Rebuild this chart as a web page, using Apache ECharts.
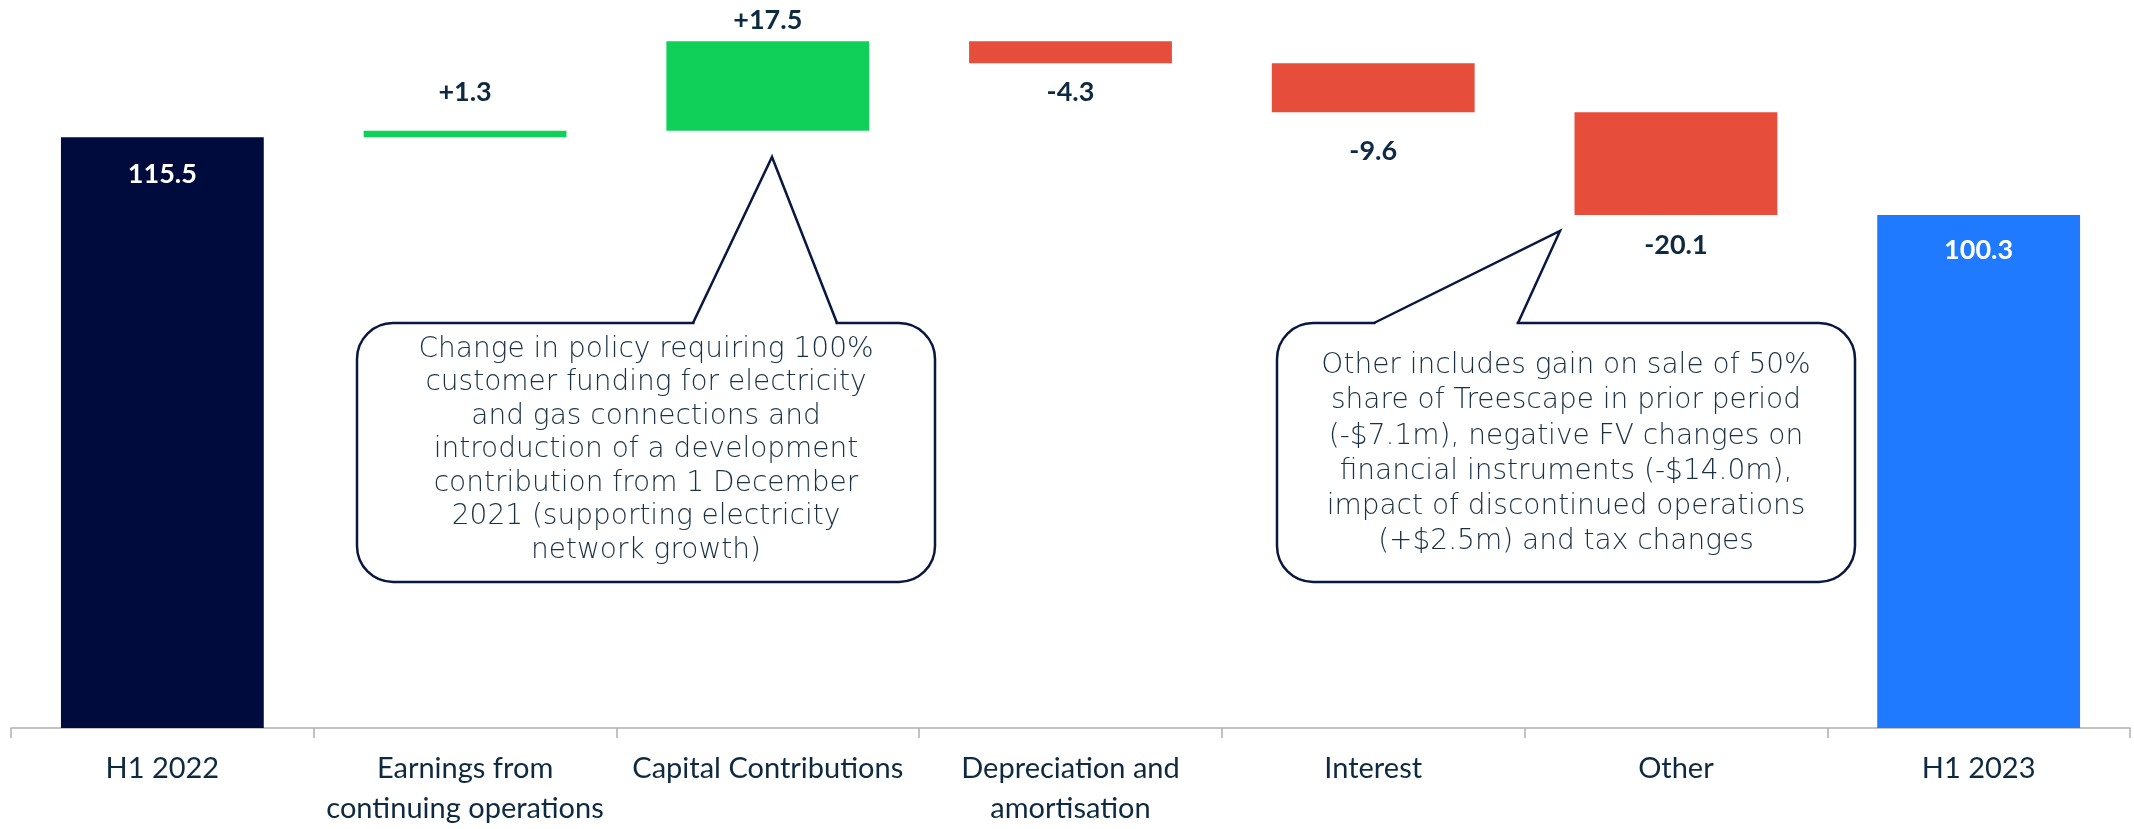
<!DOCTYPE html>
<html>
<head>
<meta charset="utf-8">
<script src="https://cdn.jsdelivr.net/npm/echarts@6/dist/echarts.min.js"></script>
<style>
  html, body { margin: 0; padding: 0; background: #fff; }
  #chart { width: 2134px; height: 829px; }
</style>
</head>
<body>
<div id="chart"></div>
<script>
  // categories and values of the bridge
  const categories = ['H1 2022', 'Earnings from\ncontinuing operations', 'Capital Contributions',
    'Depreciation and\namortisation', 'Interest', 'Other', 'H1 2023'];
  const values = [115.5, 1.3, 17.5, -4.3, -9.6, -20.1, 100.3];
  const isTotal = [true, false, false, false, false, false, true];

  // styles (not data)
  const barColors = ['#000b3d', '#10d05a', '#10d05a', '#e64d3a', '#e64d3a', '#e64d3a', '#1f7aff'];
  const labelGap = [23, 25, 7, 16, 26, 17, 22];
  const darkText = '#0e2a40';
  const bubbleLine = '#0a1740';

  // build the invisible base + visible part of each step
  let running = 0;
  let baseData = [];
  let stepData = [];
  values.forEach((v, i) => {
    if (isTotal[i]) {
      baseData.push(0);
      running = v;
    } else if (v >= 0) {
      baseData.push(running);
      running += v;
    } else {
      running += v;
      baseData.push(running);
    }
    let total = isTotal[i];
    stepData.push({
      value: Math.abs(v),
      itemStyle: { color: barColors[i] },
      label: {
        position: total ? 'insideTop' : (v >= 0 ? 'top' : 'bottom'),
        distance: labelGap[i],
        color: total ? '#ffffff' : darkText
      }
    });
  });

  function fmt(i) {
    let v = values[i];
    if (isTotal[i]) return v.toFixed(1);
    return (v > 0 ? '+' : '') + v.toFixed(1);
  }

  // speech bubble: rounded box, white patch over the pointer base, pointer sides
  function bubble(L, R, T, B, p1, apex, p2) {
    return [
      {
        type: 'rect', z: 100,
        shape: { x: L, y: T, width: R - L, height: B - T, r: 36 },
        style: { fill: '#ffffff', stroke: bubbleLine, lineWidth: 2.5 }
      },
      {
        type: 'rect', z: 101,
        shape: { x: p1 + 1.5, y: T - 2, width: p2 - p1 - 3, height: 4 },
        style: { fill: '#ffffff' }
      },
      {
        type: 'polyline', z: 102,
        shape: { points: [[p1, T], apex, [p2, T]] },
        style: { stroke: bubbleLine, lineWidth: 2.5, fill: null, lineJoin: 'miter' }
      }
    ];
  }

  const note1 = 'Change in policy requiring 100%\ncustomer funding for electricity\nand gas connections and\n' +
    'introduction of a development\ncontribution from 1 December\n2021 (supporting electricity\nnetwork growth)';
  const note2 = 'Other includes gain on sale of 50%\nshare of Treescape in prior period\n(-$7.1m), negative FV changes on\n' +
    'financial instruments (-$14.0m),\nimpact of discontinued operations\n(+$2.5m) and tax changes';

  let chart = echarts.init(document.getElementById('chart'));
  let option = {
    animation: false,
    grid: { left: 11, right: 4, top: 12, bottom: 98, containLabel: false },
    xAxis: {
      type: 'category',
      data: categories,
      axisLine: { lineStyle: { color: '#b0b0b0', width: 1.5 } },
      axisTick: { show: true, length: 10, lineStyle: { color: '#b0b0b0', width: 1.5 } },
      axisLabel: {
        interval: 0,
        margin: 21,
        fontFamily: 'Lato',
        fontSize: 29,
        lineHeight: 40,
        color: darkText
      }
    },
    yAxis: {
      type: 'value',
      min: 0,
      max: 140,
      show: false,
      splitLine: { show: false }
    },
    series: [
      {
        type: 'bar',
        stack: 'bridge',
        silent: true,
        itemStyle: { color: 'transparent' },
        data: baseData
      },
      {
        type: 'bar',
        stack: 'bridge',
        barWidth: '67%',
        data: stepData,
        label: {
          show: true,
          fontFamily: 'Lato',
          fontWeight: 'bold',
          fontSize: 27,
          formatter: p => fmt(p.dataIndex)
        }
      }
    ],
    graphic: [].concat(
      bubble(357, 935, 323, 582, 693, [772, 157], 837),
      bubble(1277, 1855, 323, 582, 1374, [1560, 231], 1518),
      [
        {
          type: 'text',
          z: 103,
          x: 646,
          y: 450,
          style: {
            text: note1,
            fontFamily: 'DejaVu Sans',
            fontWeight: 200,
            fontSize: 28,
            lineHeight: 33.5,
            fill: '#1a3144',
            textAlign: 'center',
            textVerticalAlign: 'middle'
          }
        },
        {
          type: 'text',
          z: 103,
          x: 1566,
          y: 454,
          style: {
            text: note2,
            fontFamily: 'DejaVu Sans',
            fontWeight: 200,
            fontSize: 28,
            lineHeight: 35.2,
            fill: '#1a3144',
            textAlign: 'center',
            textVerticalAlign: 'middle'
          }
        }
      ]
    )
  };
  chart.setOption(option);
</script>
</body>
</html>
